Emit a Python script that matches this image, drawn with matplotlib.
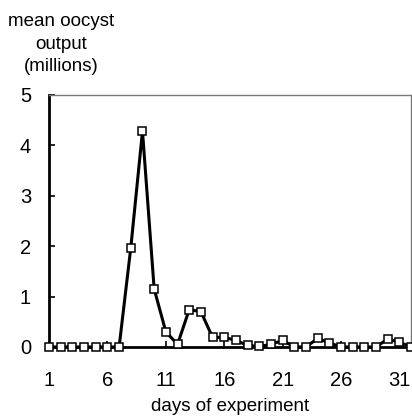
import numpy as np
import matplotlib
matplotlib.use('Agg')
import matplotlib.pyplot as plt

plt.rcParams['font.family'] = ['Liberation Sans', 'DejaVu Sans']

days = np.arange(1, 33)
oocysts = [0, 0, 0, 0, 0, 0, 0, 1.97, 4.28, 1.15, 0.30, 0.05, 0.74, 0.70, 0.19, 0.19,
           0.13, 0.03, 0.01, 0.05, 0.13, 0, 0, 0.17, 0.08, 0, 0, 0, 0, 0.16, 0.09, 0]
xticks = [1, 6, 11, 16, 21, 26, 31]
yticks = [0, 1, 2, 3, 4, 5]

fig = plt.figure(figsize=(4.12, 4.18), dpi=100)
ax = fig.add_axes([0.119, 0.170, 0.879, 0.603])

ax.plot(days, oocysts, color='black', lw=2.2, marker='s', ms=5.5,
        mfc='white', mec='black', mew=1.1, clip_on=False, zorder=3)

ax.set_xlim(1, 32)
ax.set_ylim(0, 5)
ax.set_xticks(xticks)
ax.set_yticks(yticks)
ax.tick_params(direction='in', length=4, width=1.2, labelsize=14.5)
ax.tick_params(axis='x', pad=17)
ax.tick_params(axis='y', pad=13)

for s in ('left', 'bottom'):
    ax.spines[s].set_linewidth(2)
    ax.spines[s].set_color('black')
for s in ('top', 'right'):
    ax.spines[s].set_linewidth(1)
    ax.spines[s].set_color('#777777')

ax.set_xlabel('days of experiment', fontsize=13.5, labelpad=6)
fig.text(0.148, 0.968, 'mean oocyst\noutput\n(millions)', ha='center', va='top',
         fontsize=13.5, linespacing=1.42)

fig.savefig('out.png', dpi=100)
